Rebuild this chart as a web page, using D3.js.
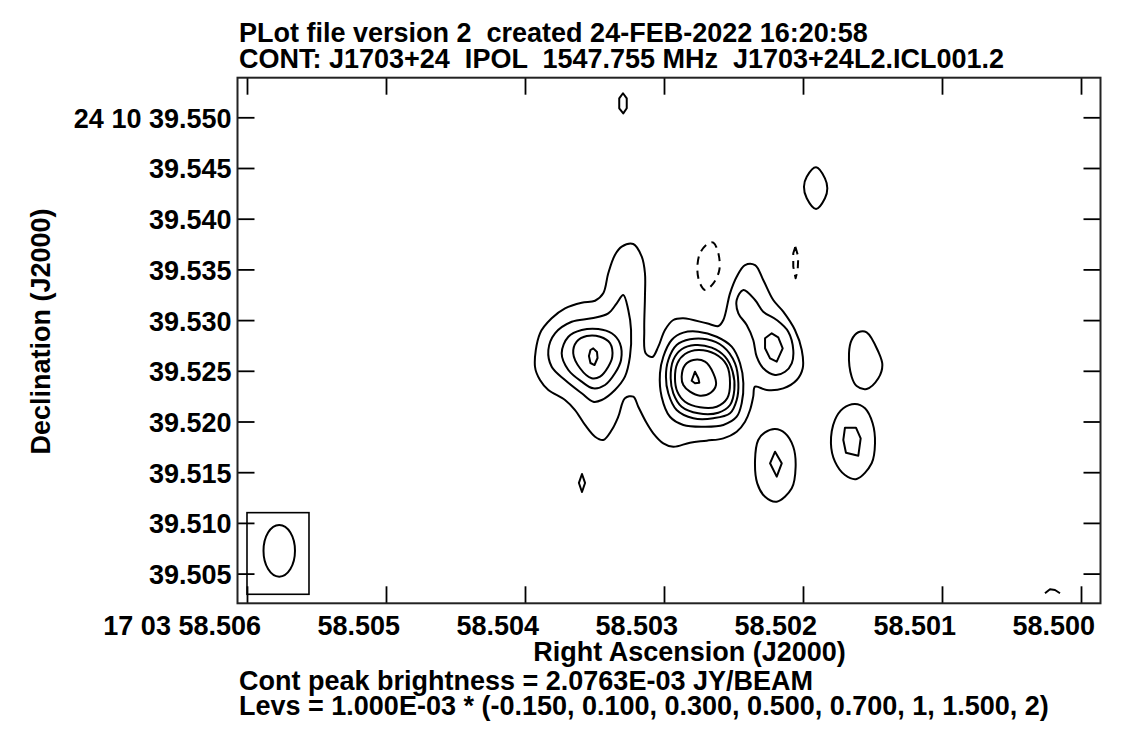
<!DOCTYPE html>
<html><head><meta charset="utf-8">
<script src="https://cdn.jsdelivr.net/npm/d3@7"></script>
<style>
body{margin:0;background:#fff;}
svg text{font-family:"Liberation Sans",Arial,Helvetica,sans-serif;font-weight:bold;font-size:27px;fill:#000;white-space:pre;}
</style></head><body>
<svg id="chart" width="1125" height="740"></svg>
<script>
// ---------------- data ----------------
const titleLines = [
  "PLot file version 2  created 24-FEB-2022 16:20:58",
  "CONT: J1703+24  IPOL  1547.755 MHz  J1703+24L2.ICL001.2"
];
const xAxisTitle = "Right Ascension (J2000)";
const yAxisTitle = "Declination (J2000)";
const raTicks = [58.506, 58.505, 58.504, 58.503, 58.502, 58.501, 58.500];
const raTickLabels = ["17 03 58.506", "58.505", "58.504", "58.503", "58.502", "58.501", "58.500"];
const decTicks = [39.550, 39.545, 39.540, 39.535, 39.530, 39.525, 39.520, 39.515, 39.510, 39.505];
const decTickLabels = ["24 10 39.550", "39.545", "39.540", "39.535", "39.530", "39.525", "39.520", "39.515", "39.510", "39.505"];
const raDomain = [58.5060683, 58.4998597];   // RA seconds (17h03m), left -> right
const decDomain = [39.502071, 39.553905];    // Dec arcsec (+24d10'), bottom -> top
const peakBrightness = "2.0763E-03 JY/BEAM";
const levelUnit = "1.000E-03";
const levels = [-0.15, 0.1, 0.3, 0.5, 0.7, 1, 1.5, 2];
const beam = {ra: 58.505768, dec: 39.50725, bmaj: 0.0051, bmin: 0.0031};  // arcsec
const beamBox = [[58.506, 39.51101], [58.505554, 39.50296]];
const decDegrees = 24.1777;

// contours: [RA seconds, Dec arcsec]
const cont010_main = [[58.503928,39.52540],[58.503892,39.52870],[58.503808,39.53018],[58.503712,39.53116],[58.503592,39.53172],[58.503496,39.53191],[58.503437,39.53264],[58.503401,39.53462],[58.503353,39.53642],[58.503304,39.53724],[58.503221,39.53750],[58.503160,39.53625],[58.503137,39.53462],[58.503137,39.53231],[58.503142,39.52902],[58.503132,39.52673],[58.503084,39.52636],[58.503041,39.52738],[58.502993,39.52902],[58.502933,39.53001],[58.502861,39.53018],[58.502693,39.52968],[58.502609,39.52942],[58.502573,39.53001],[58.502525,39.53264],[58.502477,39.53428],[58.502417,39.53543],[58.502345,39.53543],[58.502286,39.53396],[58.502214,39.53198],[58.502142,39.53083],[58.502058,39.52902],[58.502009,39.52705],[58.502002,39.52525],[58.502045,39.52409],[58.502142,39.52327],[58.502261,39.52311],[58.502345,39.52343],[58.502358,39.52245],[58.502381,39.52113],[58.502417,39.51998],[58.502477,39.51899],[58.502573,39.51834],[58.502693,39.51811],[58.502813,39.51791],[58.502933,39.51751],[58.503005,39.51785],[58.503077,39.51884],[58.503129,39.51995],[58.503185,39.52146],[58.503221,39.52245],[58.503281,39.52229],[58.503329,39.52047],[58.503376,39.51916],[58.503437,39.51818],[58.503496,39.51850],[58.503568,39.51966],[58.503640,39.52113],[58.503712,39.52212],[58.503832,39.52311],[58.503892,39.52409]];
const cont030_west = [[58.503293,39.53248],[58.503257,39.53100],[58.503237,39.52902],[58.503245,39.52639],[58.503281,39.52442],[58.503353,39.52311],[58.503448,39.52212],[58.503509,39.52195],[58.503592,39.52278],[58.503712,39.52409],[58.503808,39.52540],[58.503832,39.52705],[58.503784,39.52870],[58.503664,39.52984],[58.503520,39.53018],[58.503401,39.53067],[58.503340,39.53166]];
const cont050_west = [[58.503736,39.52673],[58.503688,39.52836],[58.503592,39.52902],[58.503473,39.52912],[58.503376,39.52870],[58.503317,39.52771],[58.503309,39.52607],[58.503353,39.52475],[58.503424,39.52360],[58.503509,39.52327],[58.503592,39.52393],[58.503688,39.52508]];
const cont070_west = [[58.503653,39.52673],[58.503628,39.52787],[58.503556,39.52843],[58.503460,39.52836],[58.503388,39.52771],[58.503372,39.52639],[58.503401,39.52540],[58.503460,39.52442],[58.503520,39.52426],[58.503604,39.52525]];
const cont100_west = [[58.503509,39.52721],[58.503482,39.52685],[58.503478,39.52626],[58.503500,39.52557],[58.503529,39.52577],[58.503540,39.52646],[58.503529,39.52705]];
const cont030_core = [[58.503029,39.52475],[58.503005,39.52639],[58.502945,39.52804],[58.502861,39.52876],[58.502753,39.52886],[58.502621,39.52836],[58.502513,39.52738],[58.502453,39.52574],[58.502429,39.52377],[58.502441,39.52180],[58.502477,39.52047],[58.502573,39.51966],[58.502717,39.51949],[58.502861,39.51966],[58.502957,39.52047],[58.503017,39.52245]];
const cont050_core = [[58.502986,39.52442],[58.502969,39.52607],[58.502909,39.52754],[58.502813,39.52811],[58.502693,39.52811],[58.502573,39.52738],[58.502489,39.52574],[58.502465,39.52377],[58.502477,39.52212],[58.502525,39.52081],[58.502645,39.52032],[58.502789,39.52032],[58.502909,39.52113],[58.502969,39.52278]];
const cont070_core = [[58.502952,39.52426],[58.502933,39.52607],[58.502873,39.52712],[58.502777,39.52754],[58.502657,39.52728],[58.502561,39.52639],[58.502506,39.52491],[58.502494,39.52311],[58.502525,39.52163],[58.502609,39.52087],[58.502753,39.52081],[58.502873,39.52146],[58.502933,39.52278]];
const cont100_core = [[58.502921,39.52426],[58.502904,39.52574],[58.502849,39.52666],[58.502753,39.52705],[58.502633,39.52666],[58.502549,39.52557],[58.502525,39.52377],[58.502545,39.52229],[58.502621,39.52146],[58.502741,39.52140],[58.502849,39.52195],[58.502904,39.52294]];
const cont150_core = [[58.502873,39.52442],[58.502849,39.52557],[58.502789,39.52607],[58.502705,39.52590],[58.502645,39.52475],[58.502626,39.52360],[58.502664,39.52284],[58.502741,39.52254],[58.502813,39.52294],[58.502861,39.52360]];
const cont200_core = [[58.502777,39.52491],[58.502753,39.52426],[58.502746,39.52383],[58.502777,39.52377],[58.502801,39.52402]];
const cont030_ne = [[58.502429,39.53297],[58.502345,39.53198],[58.502286,39.53083],[58.502189,39.53001],[58.502106,39.52886],[58.502070,39.52705],[58.502081,39.52574],[58.502129,39.52491],[58.502201,39.52459],[58.502286,39.52525],[58.502333,39.52639],[58.502358,39.52804],[58.502405,39.52952],[58.502465,39.53067],[58.502477,39.53198]];
const cont050_ne = [[58.502273,39.52821],[58.502225,39.52870],[58.502178,39.52830],[58.502146,39.52722],[58.502189,39.52590],[58.502237,39.52623],[58.502273,39.52722]];
const cont010_east = [[58.501602,39.52880],[58.501542,39.52880],[58.501458,39.52688],[58.501429,39.52557],[58.501458,39.52426],[58.501542,39.52321],[58.501614,39.52350],[58.501650,39.52442],[58.501669,39.52673],[58.501650,39.52804]];
const cont010_se = [[58.501626,39.52173],[58.501554,39.52130],[58.501499,39.51982],[58.501482,39.51785],[58.501506,39.51588],[58.501614,39.51433],[58.501698,39.51472],[58.501770,39.51604],[58.501799,39.51785],[58.501770,39.52015],[58.501710,39.52130]];
const cont030_se = [[58.501698,39.51939],[58.501619,39.51939],[58.501585,39.51834],[58.501602,39.51663],[58.501691,39.51692],[58.501710,39.51818]];
const cont010_s = [[58.502201,39.51926],[58.502129,39.51884],[58.502070,39.51751],[58.502053,39.51554],[58.502081,39.51341],[58.502189,39.51209],[58.502273,39.51258],[58.502329,39.51390],[58.502345,39.51620],[58.502322,39.51818],[58.502273,39.51893]];
const cont030_s = [[58.502201,39.51702],[58.502153,39.51588],[58.502189,39.51456],[58.502237,39.51588]];
const cont010_sw = [[58.503590,39.51482],[58.503568,39.51394],[58.503590,39.51305],[58.503612,39.51394]];
const cont010_n = [[58.503295,39.55237],[58.503268,39.55187],[58.503268,39.55089],[58.503293,39.55039],[58.503322,39.55089],[58.503322,39.55187]];
const cont010_nne = [[58.501906,39.54507],[58.501842,39.54398],[58.501825,39.54300],[58.501842,39.54201],[58.501906,39.54096],[58.501973,39.54201],[58.501993,39.54316],[58.501973,39.54414]];
const contNeg_a = [[58.502645,39.53763],[58.502609,39.53659],[58.502602,39.53494],[58.502645,39.53363],[58.502705,39.53297],[58.502741,39.53363],[58.502760,39.53494],[58.502741,39.53659],[58.502681,39.53757]];
const contNeg_b = [[58.502055,39.53724],[58.502034,39.53625],[58.502038,39.53494],[58.502053,39.53412],[58.502070,39.53527],[58.502070,39.53659]];
const cont010_edge = [[58.500259,39.50306],[58.500223,39.50345],[58.500187,39.50338],[58.500151,39.50306]];

const contours = [
  {level: 0.1, closed: true, pts: cont010_main},
  {level: 0.3, closed: true, pts: cont030_west},
  {level: 0.5, closed: true, pts: cont050_west},
  {level: 0.7, closed: true, pts: cont070_west},
  {level: 1, closed: true, pts: cont100_west},
  {level: 0.3, closed: true, pts: cont030_core},
  {level: 0.5, closed: true, pts: cont050_core},
  {level: 0.7, closed: true, pts: cont070_core},
  {level: 1, closed: true, pts: cont100_core},
  {level: 1.5, closed: true, pts: cont150_core},
  {level: 2, closed: true, pts: cont200_core},
  {level: 0.3, closed: true, pts: cont030_ne},
  {level: 0.5, closed: true, pts: cont050_ne},
  {level: 0.1, closed: true, pts: cont010_east},
  {level: 0.1, closed: true, pts: cont010_se},
  {level: 0.3, closed: true, pts: cont030_se},
  {level: 0.1, closed: true, pts: cont010_s},
  {level: 0.3, closed: true, pts: cont030_s},
  {level: 0.1, closed: true, pts: cont010_sw},
  {level: 0.1, closed: true, pts: cont010_n},
  {level: 0.1, closed: true, pts: cont010_nne},
  {level: -0.15, closed: true, pts: contNeg_a},
  {level: -0.15, closed: true, pts: contNeg_b},
  {level: 0.1, closed: false, pts: cont010_edge}
];

// ---------------- drawing ----------------
const svg = d3.select("#chart");
const W = 1125, H = 740;
const frame = {left: 237.5, right: 1100.5, top: 77.7, bottom: 603.3};
const x = d3.scaleLinear().domain(raDomain).range([frame.left, frame.right]);
const y = d3.scaleLinear().domain(decDomain).range([frame.bottom, frame.top]);

svg.append("rect").attr("width", W).attr("height", H).attr("fill", "#fff");

// titles
titleLines.forEach((t, i) => {
  svg.append("text").attr("x", 239).attr("y", 42 + i * 25.5).attr("xml:space", "preserve").text(t);
});

// clip
svg.append("defs").append("clipPath").attr("id", "plotclip")
  .append("rect").attr("x", frame.left).attr("y", frame.top)
  .attr("width", frame.right - frame.left).attr("height", frame.bottom - frame.top);

const plot = svg.append("g").attr("clip-path", "url(#plotclip)");

// contours
const lineSmooth = d3.line().x(d => x(d[0])).y(d => y(d[1])).curve(d3.curveCatmullRomClosed.alpha(0.5));
const lineClosed = d3.line().x(d => x(d[0])).y(d => y(d[1])).curve(d3.curveLinearClosed);
const lineOpen = d3.line().x(d => x(d[0])).y(d => y(d[1])).curve(d3.curveLinear);

plot.selectAll("path.contour").data(contours).join("path")
  .attr("class", "contour")
  .attr("d", c => !c.closed ? lineOpen(c.pts) : (c.pts.length >= 8 ? lineSmooth(c.pts) : lineClosed(c.pts)))
  .attr("fill", "none")
  .attr("stroke", "#000")
  .attr("stroke-width", 2)
  .attr("stroke-linejoin", "round")
  .attr("stroke-dasharray", c => c.level < 0 ? "8,6" : null);

// beam box and beam ellipse
const raPerArcsec = 1 / (15 * Math.cos(decDegrees * Math.PI / 180));
plot.append("rect")
  .attr("x", x(beamBox[0][0])).attr("y", y(beamBox[0][1]))
  .attr("width", x(beamBox[1][0]) - x(beamBox[0][0]))
  .attr("height", y(beamBox[1][1]) - y(beamBox[0][1]))
  .attr("fill", "none").attr("stroke", "#000").attr("stroke-width", 1.6);
plot.append("ellipse")
  .attr("cx", x(beam.ra)).attr("cy", y(beam.dec))
  .attr("rx", Math.abs(x(beam.ra + beam.bmin / 2 * raPerArcsec) - x(beam.ra)))
  .attr("ry", Math.abs(y(beam.dec + beam.bmaj / 2) - y(beam.dec)))
  .attr("fill", "none").attr("stroke", "#000").attr("stroke-width", 2);

// ticks (inward on all sides)
const tickLen = 17;
const axStyle = g => {
  g.select(".domain").remove();
  g.selectAll(".tick line").attr("stroke", "#000").attr("stroke-width", 1.8);
  g.selectAll(".tick text").remove();
};
svg.append("g").attr("transform", `translate(0,${frame.bottom})`)
  .call(d3.axisBottom(x).tickValues(raTicks).tickSize(-tickLen).tickSizeOuter(0)).call(axStyle);
svg.append("g").attr("transform", `translate(0,${frame.top})`)
  .call(d3.axisTop(x).tickValues(raTicks).tickSize(-tickLen).tickSizeOuter(0)).call(axStyle);
svg.append("g").attr("transform", `translate(${frame.left},0)`)
  .call(d3.axisLeft(y).tickValues(decTicks).tickSize(-tickLen).tickSizeOuter(0)).call(axStyle);
svg.append("g").attr("transform", `translate(${frame.right},0)`)
  .call(d3.axisRight(y).tickValues(decTicks).tickSize(-tickLen).tickSizeOuter(0)).call(axStyle);

// frame
svg.append("rect")
  .attr("x", frame.left).attr("y", frame.top)
  .attr("width", frame.right - frame.left).attr("height", frame.bottom - frame.top)
  .attr("fill", "none").attr("stroke", "#222").attr("stroke-width", 2);

// tick labels
svg.selectAll("text.xl").data(raTicks).join("text").attr("class", "xl")
  .attr("x", d => x(d) + 14).attr("y", frame.bottom + 32)
  .attr("text-anchor", "end")
  .text((d, i) => raTickLabels[i]);
svg.selectAll("text.yl").data(decTicks).join("text").attr("class", "yl")
  .attr("x", 231.5).attr("y", d => y(d) + 10.5)
  .attr("text-anchor", "end")
  .text((d, i) => decTickLabels[i]);

// axis titles
svg.append("text").attr("x", 689.5).attr("y", 661).attr("text-anchor", "middle").text(xAxisTitle);
svg.append("text").attr("transform", "translate(50,331.5) rotate(-90)").attr("text-anchor", "middle").text(yAxisTitle);

// footer
const fmtLev = v => Number.isInteger(v) ? String(v) : v.toFixed(3);
svg.append("text").attr("x", 239).attr("y", 690).text("Cont peak brightness = " + peakBrightness);
svg.append("text").attr("x", 239).attr("y", 715)
  .text("Levs = " + levelUnit + " * (" + levels.map(fmtLev).join(", ") + ")");
</script>
</body></html>
